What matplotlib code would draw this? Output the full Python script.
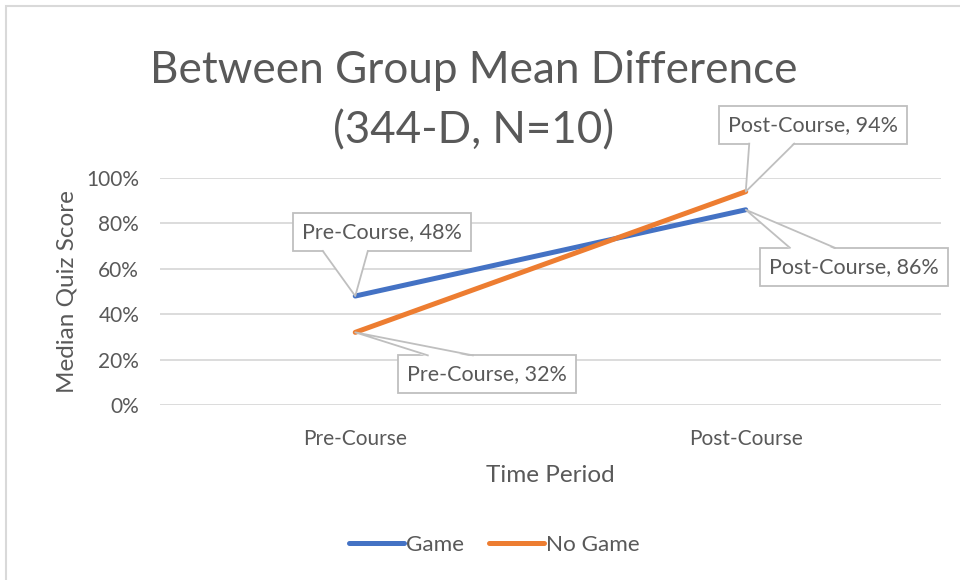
import matplotlib.pyplot as plt
from matplotlib.patches import Rectangle, Polygon
from matplotlib.lines import Line2D
from matplotlib.transforms import IdentityTransform
from matplotlib.ticker import PercentFormatter

plt.rcParams['font.family'] = ['Lato', 'DejaVu Sans']

periods = ["Pre-Course", "Post-Course"]
game = [0.48, 0.86]
no_game = [0.32, 0.94]
yticks = [0, 0.2, 0.4, 0.6, 0.8, 1.0]

TXT = "#595959"
GRID = "#d9d9d9"
BOX = "#bfbfbf"
BLUE = "#4472C4"
ORANGE = "#ED7D31"

W, H = 960, 580
fig = plt.figure(figsize=(W / 100, H / 100), dpi=100)
# chart area border (cropped on right/bottom like the screenshot)
fig.patches.append(Rectangle((6 / W, -0.1), 1.2, 1 - 6 / H + 0.1,
                             transform=fig.transFigure, fill=False,
                             ec=GRID, lw=1.5))

ax = fig.add_axes([160 / W, 1 - 405 / H, (941 - 160) / W, (405 - 178) / H])
x = [0.5, 1.5]
ax.set_xlim(0, 2)
ax.set_ylim(0, 1)
ax.set_yticks(yticks)
ax.yaxis.set_major_formatter(PercentFormatter(1.0, decimals=0))
ax.set_xticks(x)
ax.set_xticklabels(periods)
ax.grid(axis="y", color=GRID, lw=1.3)
ax.set_axisbelow(True)
for s in ax.spines.values():
    s.set_visible(False)
ax.tick_params(length=0, colors=TXT, labelsize=15)
ax.tick_params(axis="x", pad=17)
ax.tick_params(axis="y", pad=15)

ax.plot(x, game, color=BLUE, lw=3.6, solid_capstyle="round", label="Game", zorder=3)
ax.plot(x, no_game, color=ORANGE, lw=3.6, solid_capstyle="round", label="No Game", zorder=3)

ax.set_xlabel("Time Period", color=TXT, fontsize=17.5, labelpad=12)
ax.set_ylabel("Median Quiz Score", color=TXT, fontsize=17.5, labelpad=6)

fig.text(0.493, 1 - 83 / H, "Between Group Mean Difference",
         ha="center", va="baseline", fontsize=31.7, color=TXT)
fig.text(0.493, 1 - 143 / H, "(344-D, N=10)",
         ha="center", va="baseline", fontsize=31.7, color=TXT)

# callout data labels: box centre offset (px) from each point
labels = [
    (0, game[0], (26.5, -64)),
    (0, no_game[0], (131.5, 42)),
    (1, no_game[1], (67.5, -67)),
    (1, game[1], (108, 57)),
]
texts = []
for i, yi, (dx, dy) in labels:
    t = ax.annotate(f"{periods[i]}, {yi:.0%}", (x[i], yi),
                    xytext=(dx * 0.72, -dy * 0.72), textcoords="offset points",
                    ha="center", va="center", fontsize=15.5, color=TXT,
                    zorder=6, annotation_clip=False)
    texts.append((t, x[i], yi))

fig.canvas.draw()
rend = fig.canvas.get_renderer()
ident = IdentityTransform()
for t, xi, yi in texts:
    px, py = ax.transData.transform((xi, yi))
    bb = t.get_window_extent(rend)
    cx, cy = (bb.x0 + bb.x1) / 2, (bb.y0 + bb.y1) / 2
    w, h = bb.width + 18, 38
    left, bot = cx - w / 2, cy - h / 2
    rect = Rectangle((left, bot), w, h, transform=ident, fc="white", ec=BOX,
                     lw=1.3, zorder=4, clip_on=False)
    ax.add_patch(rect)
    edge = bot + h if py > cy else bot
    inner = -1.5 if py > cy else 1.5
    b1, b2 = left + 30, left + 75
    tri = Polygon([(b1, edge + inner), (b2, edge + inner), (px, py)],
                  closed=True, transform=ident, fc="white", ec="none",
                  zorder=4.5, clip_on=False)
    ax.add_patch(tri)
    ax.add_line(Line2D([b1, px, b2], [edge, py, edge], transform=ident,
                       color=BOX, lw=1.3, zorder=4.6, clip_on=False))

fig.legend(loc="center", bbox_to_anchor=(494.5 / W, 1 - 545 / H), ncol=2,
           frameon=False, fontsize=16.2, handlelength=2.45, handletextpad=0.1,
           columnspacing=1.1, labelcolor=TXT)

fig.savefig("out.png", dpi=100)
